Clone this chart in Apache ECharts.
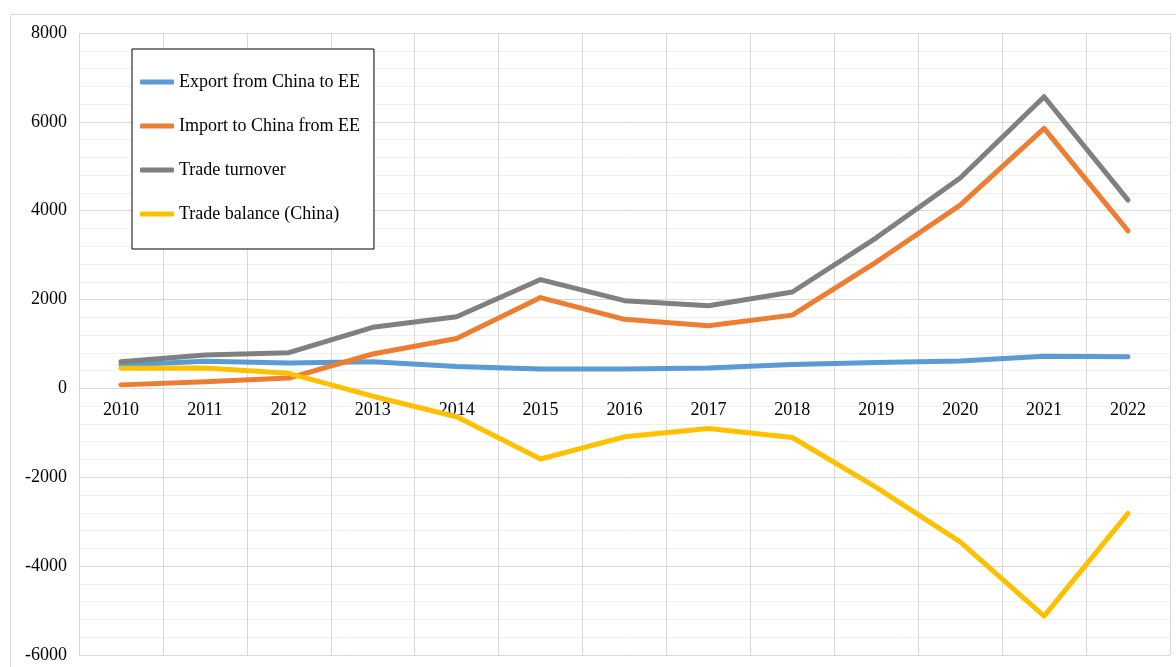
<!DOCTYPE html>
<html>
<head>
<meta charset="utf-8">
<script src="https://cdn.jsdelivr.net/npm/echarts@6/dist/echarts.min.js"></script>
<style>
html,body{margin:0;padding:0;background:#fff;}
#chart{width:1176px;height:667px;}
</style>
</head>
<body>
<div id="chart"></div>
<script>
const years = ['2010','2011','2012','2013','2014','2015','2016','2017','2018','2019','2020','2021','2022'];
const exportFromChina = [527, 610, 575, 600, 495, 440, 435, 460, 540, 585, 615, 725, 715];
const importToChina = [80, 150, 234, 775, 1125, 2045, 1555, 1410, 1650, 2845, 4125, 5855, 3545];
const tradeTurnover = [600, 755, 805, 1375, 1612, 2450, 1975, 1862, 2170, 3390, 4735, 6565, 4240];
const tradeBalance = [452, 460, 340, -175, -637, -1589, -1090, -900, -1105, -2226, -3455, -5125, -2811];
const seriesNames = ['Export from China to EE','Import to China from EE','Trade turnover','Trade balance (China)'];
const colors = ['#5B9BD5','#ED7D31','#808080','#FFC000'];
const yMin = -6000, yMax = 8000, yStep = 2000;

const font = 'Liberation Serif';
const chart = echarts.init(document.getElementById('chart'));
const mk = (name, data, color) => ({
  name, type: 'line', data, symbol: 'none', showSymbol: false, smooth: false,
  lineStyle: { color, width: 5, cap: 'round', join: 'round' },
  itemStyle: { color },
  emphasis: { disabled: true }
});
chart.setOption({
  animation: false,
  backgroundColor: '#fff',
  graphic: [{
    type: 'rect', silent: true, z: -10,
    shape: { x: 10.5, y: 14.5, width: 1180, height: 670 },
    style: { fill: 'none', stroke: '#d9d9d9', lineWidth: 1 }
  }],
  grid: { left: 79, right: 6, top: 33, bottom: 12, containLabel: false, outerBoundsMode: 'none' },
  legend: {
    orient: 'vertical', left: 132, top: 49,
    padding: [24, 14, 26, 8], itemGap: 26, itemWidth: 34, itemHeight: 5,
    icon: 'roundRect',
    borderColor: '#000', borderWidth: 1, backgroundColor: '#fff',
    textStyle: { fontFamily: font, fontSize: 18, color: '#000' },
    data: seriesNames
  },
  xAxis: {
    type: 'category', data: years, boundaryGap: true,
    axisLine: { show: true, onZero: false, lineStyle: { color: '#d9d9d9', width: 1 } },
    axisTick: { show: false },
    axisLabel: { interval: 0, margin: 13, fontFamily: font, fontSize: 18, color: '#000' },
    splitLine: { show: true, interval: 0, lineStyle: { color: '#d9d9d9', width: 1 } }
  },
  yAxis: {
    type: 'value', min: yMin, max: yMax, interval: yStep,
    axisLine: { show: false }, axisTick: { show: false },
    axisLabel: { margin: 12, fontFamily: font, fontSize: 18, color: '#000', formatter: v => String(v) },
    splitLine: { lineStyle: { color: '#d9d9d9', width: 1 } },
    minorTick: { show: false, splitNumber: 5 },
    minorSplitLine: { show: true, lineStyle: { color: '#efefef', width: 1 } }
  },
  series: [
    mk(seriesNames[0], exportFromChina, colors[0]),
    mk(seriesNames[1], importToChina, colors[1]),
    mk(seriesNames[2], tradeTurnover, colors[2]),
    mk(seriesNames[3], tradeBalance, colors[3])
  ]
});
// place the category axis (line + labels) on the value axis' zero, using the library's own scale
const yZero = chart.convertToPixel({ yAxisIndex: 0 }, 0);
const yBottom = chart.convertToPixel({ yAxisIndex: 0 }, yMin);
chart.setOption({ xAxis: { offset: yZero - yBottom } });
</script>
</body>
</html>
